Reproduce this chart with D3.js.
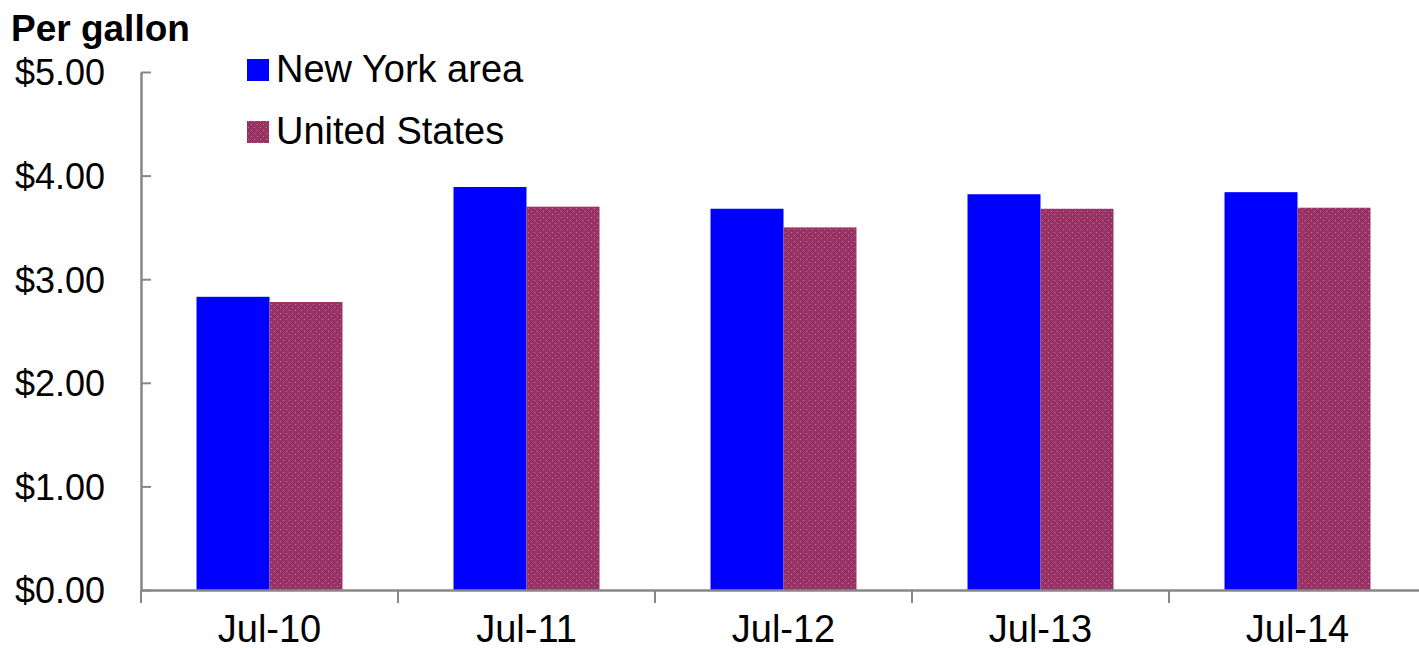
<!DOCTYPE html>
<html>
<head>
<meta charset="utf-8">
<script src="https://cdn.jsdelivr.net/npm/d3@7"></script>
<style>
  body { margin: 0; background: #fff; }
  text { font-family: "Liberation Sans", Arial, sans-serif; fill: #000; }
</style>
</head>
<body>
<div id="chart"></div>
<script>
var months = ["Jul-10", "Jul-11", "Jul-12", "Jul-13", "Jul-14"];
var seriesNames = ["New York area", "United States"];
var newYork = [2.83, 3.89, 3.68, 3.82, 3.84];
var unitedStates = [2.78, 3.70, 3.50, 3.68, 3.69];
var yTicks = [0, 1, 2, 3, 4, 5];

var width = 1419, height = 650;
var mLeft = 141, mTop = 72, mBottom = 590, mRight = 1426;
var colors = ["#0000ff", "#993366"];

var svg = d3.select("#chart").append("svg")
    .attr("width", width).attr("height", height);

// dotted texture for the US bars
var defs = svg.append("defs");
var pat = defs.append("pattern").attr("id", "dots")
    .attr("patternUnits", "userSpaceOnUse")
    .attr("width", 6).attr("height", 6);
pat.append("rect").attr("width", 6).attr("height", 6).attr("fill", colors[1]);
pat.append("rect").attr("x", 1).attr("y", 1).attr("width", 1).attr("height", 1).attr("fill", "#b87a98");
pat.append("rect").attr("x", 4).attr("y", 4).attr("width", 1).attr("height", 1).attr("fill", "#b87a98");

var y = d3.scaleLinear().domain([0, 5]).range([mBottom, mTop]);

var x = d3.scaleBand().domain(months).range([mLeft, mRight]);

var groupW = x.bandwidth() * 0.568;
var x1 = d3.scaleBand().domain(seriesNames)
    .range([(x.bandwidth() - groupW) / 2, (x.bandwidth() + groupW) / 2]);

var rows = months.map(function(m, i) {
  return { month: m, values: [newYork[i], unitedStates[i]] };
});

var groups = svg.selectAll("g.month")
    .data(rows)
    .enter().append("g")
    .attr("class", "month")
    .attr("transform", function(d) { return "translate(" + x(d.month) + ",0)"; });

groups.selectAll("rect")
    .data(function(d) { return d.values.map(function(v, j) { return { name: seriesNames[j], value: v, j: j }; }); })
    .enter().append("rect")
    .attr("x", function(d) { return x1(d.name); })
    .attr("width", x1.bandwidth())
    .attr("y", function(d) { return y(d.value); })
    .attr("height", function(d) { return y(0) - y(d.value); })
    .attr("fill", function(d) { return d.j === 0 ? colors[0] : "url(#dots)"; });

// y axis
var yAxis = d3.axisLeft(y)
    .tickValues(yTicks)
    .tickFormat(function(d) { return "$" + d.toFixed(2); })
    .tickSizeInner(-10)
    .tickSizeOuter(0)
    .tickPadding(36);

var gy = svg.append("g")
    .attr("transform", "translate(" + mLeft + ",0)")
    .call(yAxis);
gy.select(".domain").attr("stroke", "#878787").attr("stroke-width", 2.5);
gy.selectAll(".tick line").attr("stroke", "#878787").attr("stroke-width", 2);
gy.selectAll(".tick text").style("font-size", "36px").attr("dy", "0.36em");

// x axis: labels at centers, ticks at band boundaries
var xAxis = d3.axisBottom(x).tickSize(0).tickPadding(25);
var gx = svg.append("g")
    .attr("transform", "translate(0," + mBottom + ")")
    .call(xAxis);
gx.select(".domain").attr("stroke", "#878787").attr("stroke-width", 2.5);
gx.selectAll(".tick text").style("font-size", "38px");

gx.selectAll("line.bound")
    .data(months)
    .enter().append("line")
    .attr("class", "bound")
    .attr("x1", function(d) { return x(d); })
    .attr("x2", function(d) { return x(d); })
    .attr("y1", 0).attr("y2", 13)
    .attr("stroke", "#878787").attr("stroke-width", 2);

// title
svg.append("text")
    .attr("x", 11).attr("y", 41)
    .style("font-size", "37px").style("font-weight", "bold")
    .text("Per gallon");

// legend
var legend = svg.selectAll("g.legend")
    .data(seriesNames)
    .enter().append("g")
    .attr("class", "legend")
    .attr("transform", function(d, i) { return "translate(247," + (82 + i * 62) + ")"; });

legend.append("rect")
    .attr("x", 0).attr("y", -23)
    .attr("width", 22).attr("height", 22)
    .attr("fill", function(d, i) { return i === 0 ? colors[0] : "url(#dots)"; });

legend.append("text")
    .attr("x", 29).attr("y", 0)
    .style("font-size", "38px")
    .text(function(d) { return d; });
</script>
</body>
</html>
